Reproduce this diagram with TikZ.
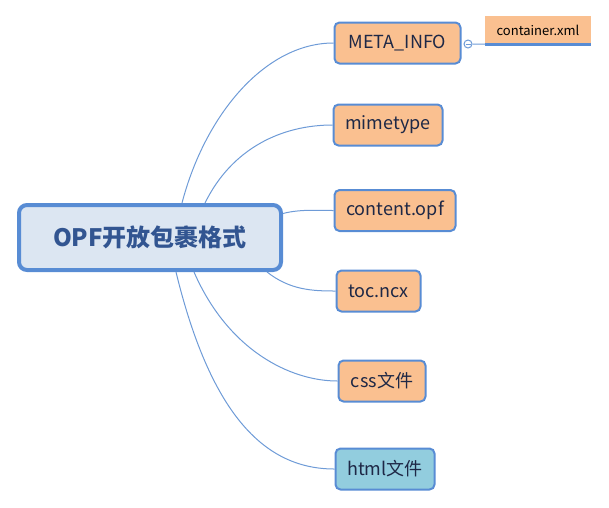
\documentclass[tikz,border=0pt]{standalone}
\usepackage{fontspec}
\setmainfont{Noto Sans CJK SC}
\usetikzlibrary{calc}
\definecolor{bordc}{RGB}{88,140,212}
\definecolor{linec}{RGB}{110,155,215}
\definecolor{cfill}{RGB}{220,230,242}
\definecolor{ofill}{RGB}{250,192,144}
\definecolor{bfill}{RGB}{146,205,222}
\definecolor{titlec}{RGB}{50,85,145}
\definecolor{txtc}{RGB}{30,40,70}
\tikzset{
  rootbox/.style={draw=bordc, line width=4pt, fill=cfill, rounded corners=8pt,
    minimum width=262pt, minimum height=65pt, inner sep=0pt,
    font=\fontsize{24}{28}\selectfont\bfseries, text=titlec},
  childbox/.style={draw=bordc, line width=2pt, fill=ofill, rounded corners=5pt,
    minimum height=41pt, inner sep=0pt, font=\fontsize{18}{22}\selectfont, text=txtc},
  contbox/.style={fill=ofill, minimum width=106pt, minimum height=28pt, inner sep=0pt,
    font=\fontsize{13}{16}\selectfont, text=black},
  conn/.style={draw=linec, line width=1pt},
}
\begin{document}
\begin{tikzpicture}[x=1pt,y=-1pt]
\useasboundingbox (0,0) rectangle (609,507);
\node[rootbox] (root) at (150,237.5) {OPF开放包裹格式};
\node[childbox, minimum width=126pt] (meta) at (397.5,43) {META\_INFO};
\node[childbox, minimum width=109pt] (mime) at (388,125) {mimetype};
\node[childbox, minimum width=121pt] (opf) at (395,210.5) {content.opf};
\node[childbox, minimum width=84pt] (toc) at (378.5,291) {toc.ncx};
\node[childbox, minimum width=87pt] (css) at (382,381) {css文件};
\node[childbox, minimum width=99pt, fill=bfill] (html) at (385,469) {html文件};
\node[contbox] (cx) at (538,30) {container.xml};
\draw[draw=bordc, line width=3pt] (cx.south west) -- (cx.south east);
\node[circle, draw=linec, line width=1pt, fill=white, minimum size=8pt, inner sep=0pt] (col) at (468,44) {};
\draw[conn] ($(col.center)+(-2.5,0)$) -- ($(col.center)+(2.5,0)$);
\draw[conn] (col.east) -- (cx.south west);
% connectors
\draw[conn] ($(root.north west)+(165,0)$) .. controls (205,115) and (265,43) .. (meta.west);
\draw[conn] ($(root.north west)+(188,0)$) .. controls (232,148) and (282,125) .. (mime.west);
\draw[conn] ($(root.east)+(0,-24)$) .. controls (300,209) and (318,210.5) .. (opf.west);
\draw[conn] ($(root.south west)+(250,0)$) .. controls (290,290) and (312,291) .. (toc.west);
\draw[conn] ($(root.south west)+(177,0)$) .. controls (228,350) and (290,381) .. (css.west);
\draw[conn] ($(root.south west)+(159,0)$) .. controls (212,420) and (268,469) .. (html.west);
\end{tikzpicture}
\end{document}
